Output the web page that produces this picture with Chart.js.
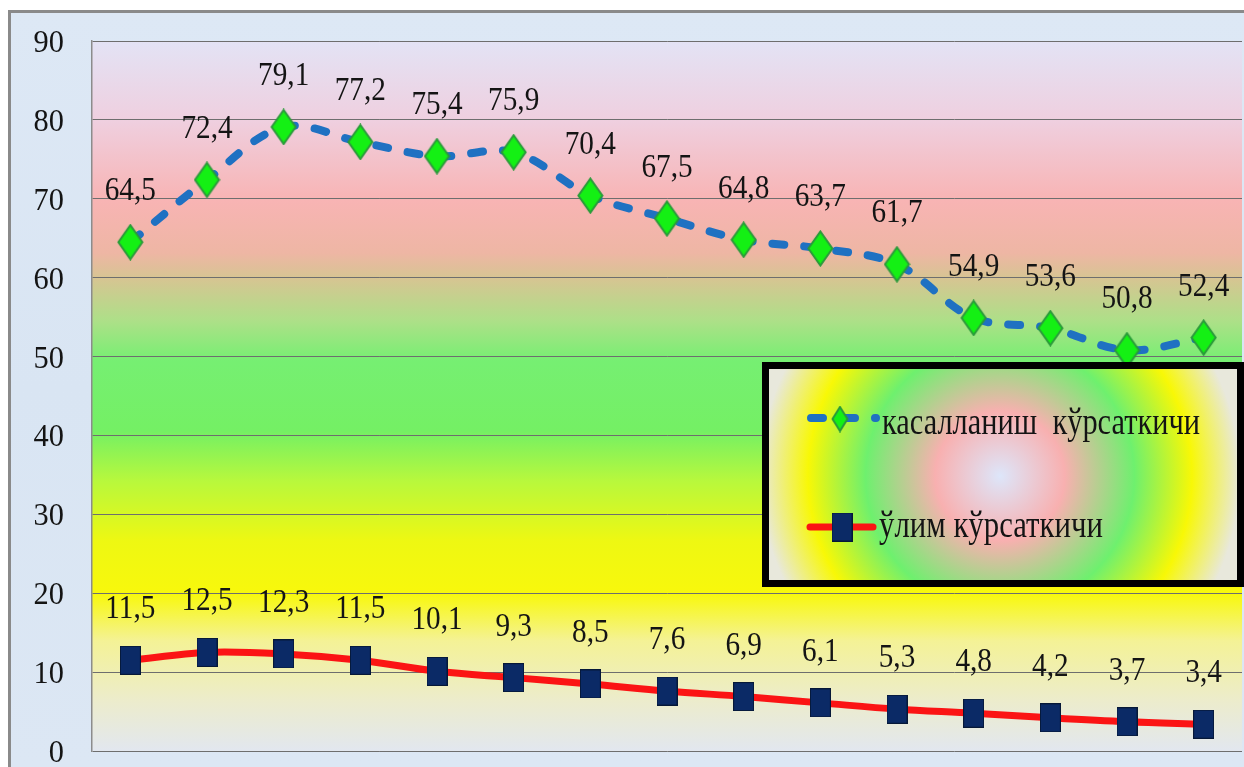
<!DOCTYPE html>
<html>
<head>
<meta charset="utf-8">
<script src="https://cdn.jsdelivr.net/npm/chart.js@4/dist/chart.umd.min.js"></script>
<style>
  html, body { margin: 0; padding: 0; background: #ffffff; overflow: hidden; }
  #wrap { width: 1244px; height: 767px; }
</style>
</head>
<body>
<div id="wrap"><canvas id="c" width="1244" height="767"></canvas></div>
<script>
// Series data (rates per period)
const periods = ['1', '2', '3', '4', '5', '6', '7', '8', '9', '10', '11', '12', '13', '14', '15'];
const incidence = [64.5, 72.4, 79.1, 77.2, 75.4, 75.9, 70.4, 67.5, 64.8, 63.7, 61.7, 54.9, 53.6, 50.8, 52.4];
const mortality = [11.5, 12.5, 12.3, 11.5, 10.1, 9.3, 8.5, 7.6, 6.9, 6.1, 5.3, 4.8, 4.2, 3.7, 3.4];
const seriesNames = ['касалланиш  кўрсаткичи', 'ўлим кўрсаткичи'];
const yTicks = [0, 10, 20, 30, 40, 50, 60, 70, 80, 90];

const SERIF = "'Liberation Serif', 'Times New Roman', serif";
Chart.defaults.font.family = SERIF;

// Marker images
function makeDiamond(w, h) {
  const cv = document.createElement('canvas');
  cv.width = w; cv.height = h;
  const g = cv.getContext('2d');
  g.beginPath();
  g.moveTo(w / 2, 1.5); g.lineTo(w - 1.5, h / 2); g.lineTo(w / 2, h - 1.5); g.lineTo(1.5, h / 2);
  g.closePath();
  g.fillStyle = '#14f014';
  g.fill();
  g.lineWidth = 2;
  g.strokeStyle = '#2a9a3a';
  g.stroke();
  return cv;
}
function makeSquare(w, h) {
  const cv = document.createElement('canvas');
  cv.width = w; cv.height = h;
  const g = cv.getContext('2d');
  g.fillStyle = '#0b2a66';
  g.fillRect(0, 0, w, h);
  g.strokeStyle = '#061838';
  g.lineWidth = 1;
  g.strokeRect(0.5, 0.5, w - 1, h - 1);
  return cv;
}
const diamondImg = makeDiamond(27, 37);
const diamondSmall = makeDiamond(18, 27);
const squareImg = makeSquare(21, 29);

// Backgrounds: framed light-blue panel and banded plot area
const backgroundPlugin = {
  id: 'backgrounds',
  beforeDraw(chart) {
    const ctx = chart.ctx;
    const a = chart.chartArea;
    ctx.save();
    ctx.fillStyle = '#ffffff';
    ctx.fillRect(0, 0, chart.width, chart.height);
    const bg = ctx.createLinearGradient(0, 11, 0, chart.height);
    bg.addColorStop(0, '#dde8f5');
    bg.addColorStop(0.5, '#d9e5f3');
    bg.addColorStop(1, '#dce7f4');
    ctx.fillStyle = bg;
    ctx.fillRect(8, 11, chart.width - 8, chart.height - 11);
    ctx.strokeStyle = '#8a8a8a';
    ctx.lineWidth = 3;
    ctx.beginPath();
    ctx.moveTo(9.5, chart.height);
    ctx.lineTo(9.5, 11.5);
    ctx.lineTo(chart.width, 11.5);
    ctx.stroke();

    const h = a.bottom - a.top;
    const gr = ctx.createLinearGradient(0, a.top, 0, a.bottom);
    const stop = (y, c) => gr.addColorStop(Math.min(1, Math.max(0, (y - a.top) / h)), c);
    stop(a.top, '#e3e3f5');
    stop(a.top + 80, '#efcfdf');
    stop(a.top + 159, '#f8b4b4');
    stop(a.top + 212, '#eeb6a4');
    stop(a.top + 238, '#d6c592');
    stop(a.top + 280, '#ade088');
    stop(a.top + 320, '#76ef72');
    stop(a.top + 390, '#74f064');
    stop(a.top + 440, '#b8f83c');
    stop(a.top + 500, '#eef812');
    stop(a.top + 553, '#f8f80c');
    stop(a.top + 600, '#f4f296');
    stop(a.top + 660, '#ececcc');
    stop(a.bottom, '#e2e7ef');
    ctx.fillStyle = gr;
    ctx.fillRect(a.left, a.top, a.right - a.left, h);
    ctx.restore();
  }
};

// Horizontally condensed text
function drawText(ctx, text, x, y, size, sx, align) {
  ctx.save();
  ctx.font = size + 'px ' + SERIF;
  ctx.fillStyle = '#141414';
  ctx.textBaseline = 'alphabetic';
  ctx.translate(x, y);
  ctx.scale(sx, 1);
  ctx.textAlign = align || 'center';
  ctx.fillText(text, 0, 0);
  ctx.restore();
}

// Y axis tick labels, placed from the scale's own ticks
const yLabelPlugin = {
  id: 'yLabels',
  afterDraw(chart) {
    const scale = chart.scales.y;
    scale.ticks.forEach(t => {
      const py = scale.getPixelForValue(t.value);
      drawText(chart.ctx, String(t.value), 64, py + 11, 32, 0.95, 'right');
    });
  }
};

// Value labels above every point
const valueLabelPlugin = {
  id: 'valueLabels',
  afterDatasetsDraw(chart) {
    const ctx = chart.ctx;
    chart.data.datasets.forEach((ds, i) => {
      const meta = chart.getDatasetMeta(i);
      meta.data.forEach((pt, j) => {
        const txt = ds.data[j].toFixed(1).replace('.', ',');
        drawText(ctx, txt, pt.x, pt.y - 42, 34, 0.86, 'center');
      });
    });
  }
};

// Framed legend with radial colour fill
const legendBoxPlugin = {
  id: 'legendBox',
  afterDatasetsDraw(chart) {
    const ctx = chart.ctx;
    const x0 = 765.5, y0 = 365.5, x1 = 1240.5, y1 = 583.5;
    ctx.save();
    const cx = 1000, cy = 476;
    const rg = ctx.createRadialGradient(cx, cy, 0, cx, cy, 240);
    rg.addColorStop(0, '#dde6fa');
    rg.addColorStop(0.27, '#f8b0b0');
    rg.addColorStop(0.56, '#6ef06e');
    rg.addColorStop(0.8, '#f8f806');
    rg.addColorStop(1, '#e8e8dc');
    ctx.fillStyle = rg;
    ctx.fillRect(x0, y0, x1 - x0, y1 - y0);
    ctx.lineWidth = 7;
    ctx.strokeStyle = '#000000';
    ctx.strokeRect(x0, y0, x1 - x0, y1 - y0);

    const ds0 = chart.data.datasets[0];
    const ds1 = chart.data.datasets[1];
    // incidence sample
    ctx.beginPath();
    ctx.setLineDash(ds0.borderDash);
    ctx.lineCap = 'round';
    ctx.lineWidth = ds0.borderWidth;
    ctx.strokeStyle = ds0.borderColor;
    ctx.moveTo(811, 418);
    ctx.lineTo(876, 418);
    ctx.stroke();
    ctx.setLineDash([]);
    ctx.drawImage(diamondSmall, 840 - diamondSmall.width / 2, 419 - diamondSmall.height / 2);
    drawText(ctx, seriesNames[0], 882, 434, 38, 0.8, 'left');

    // mortality sample
    ctx.beginPath();
    ctx.lineCap = 'round';
    ctx.lineWidth = ds1.borderWidth;
    ctx.strokeStyle = ds1.borderColor;
    ctx.moveTo(810, 527);
    ctx.lineTo(873, 527);
    ctx.stroke();
    ctx.drawImage(squareImg, 842 - squareImg.width / 2, 527 - squareImg.height / 2);
    drawText(ctx, seriesNames[1], 879, 537, 38, 0.81, 'left');
    ctx.restore();
  }
};

new Chart(document.getElementById('c'), {
  type: 'line',
  data: {
    labels: periods,
    datasets: [
      {
        label: seriesNames[0],
        data: incidence,
        borderColor: '#1f71c2',
        borderWidth: 8,
        borderDash: [12, 20],
        borderCapStyle: 'round',
        tension: 0.35,
        pointStyle: diamondImg,
        pointRadius: 14,
        fill: false
      },
      {
        label: seriesNames[1],
        data: mortality,
        borderColor: '#fb1414',
        borderWidth: 7,
        borderCapStyle: 'round',
        tension: 0.35,
        pointStyle: squareImg,
        pointRadius: 14,
        fill: false
      }
    ]
  },
  options: {
    responsive: false,
    animation: false,
    events: [],
    layout: { autoPadding: false, padding: { top: 41, right: 2, bottom: 16, left: 0 } },
    plugins: {
      legend: { display: false },
      tooltip: { enabled: false },
      title: { display: false }
    },
    scales: {
      x: {
        type: 'category',
        offset: true,
        display: false
      },
      y: {
        min: 0,
        max: 90,
        afterBuildTicks(scale) {
          scale.ticks = yTicks.map(v => ({ value: v }));
        },
        afterFit(scale) { scale.width = 92; },
        border: { display: true, color: '#8c8c8c', width: 1.5 },
        grid: { color: '#6e6e6e', lineWidth: 1, drawTicks: false },
        ticks: { display: false }
      }
    }
  },
  plugins: [backgroundPlugin, valueLabelPlugin, legendBoxPlugin, yLabelPlugin]
});
</script>
</body>
</html>
